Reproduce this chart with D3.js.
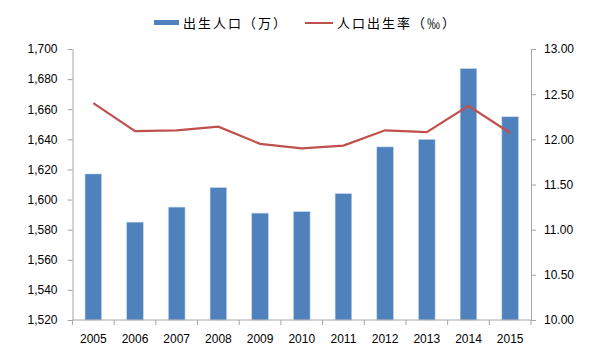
<!DOCTYPE html>
<html>
<head>
<meta charset="utf-8">
<script src="https://cdn.jsdelivr.net/npm/d3@7"></script>
<style>
  body { margin: 0; background: #fff; }
  svg text { font-family: "Liberation Sans", Arial, sans-serif; }
  .legend text { font-family: "Noto Sans CJK SC", sans-serif; }
</style>
</head>
<body>
<div id="chart"></div>
<script>
// --- data ---
const years = ["2005", "2006", "2007", "2008", "2009", "2010", "2011", "2012", "2013", "2014", "2015"];
const births = [1617, 1585, 1595, 1608, 1591, 1592, 1604, 1635, 1640, 1687, 1655];
const birthRate = [12.40, 12.09, 12.10, 12.14, 11.95, 11.90, 11.93, 12.10, 12.08, 12.37, 12.07];
const leftTicks = [1520, 1540, 1560, 1580, 1600, 1620, 1640, 1660, 1680, 1700];
const rightTicks = [10.00, 10.50, 11.00, 11.50, 12.00, 12.50, 13.00];
const legendLabels = ["出生人口（万）", "人口出生率（‰）"];

(function(){
  const W = 600, H = 354;
  const margin = { top: 49, right: 69, bottom: 34, left: 72.5 };
  const width = W - margin.left - margin.right;
  const height = H - margin.top - margin.bottom;
  const axisColor = "#a6a6a6";
  const barColor = "#4f81bd";
  const lineColor = "#c0504d";

  const svg = d3.select("#chart").append("svg")
    .attr("width", W).attr("height", H);
  const g = svg.append("g")
    .attr("transform", `translate(${margin.left},${margin.top})`);

  const x = d3.scaleBand().domain(years).range([0, width]).paddingInner(0).paddingOuter(0);
  const yL = d3.scaleLinear().domain([1520, 1700]).range([height, 0]);
  const yR = d3.scaleLinear().domain([10, 13]).range([height, 0]);

  // bars
  const bw = x.bandwidth() * 0.4;
  g.selectAll(".bar")
    .data(years)
    .join("rect")
    .attr("class", "bar")
    .attr("x", d => x(d) + (x.bandwidth() - bw) / 2)
    .attr("width", bw)
    .attr("y", (d, i) => yL(births[i]))
    .attr("height", (d, i) => height - yL(births[i]))
    .attr("fill", barColor)
    .attr("stroke", "#c6d9f1")
    .attr("stroke-width", 0.6);

  // line
  const line = d3.line()
    .x((d, i) => x(years[i]) + x.bandwidth() / 2)
    .y(d => yR(d));
  g.append("path")
    .datum(birthRate)
    .attr("d", line)
    .attr("fill", "none")
    .attr("stroke", lineColor)
    .attr("stroke-width", 2.2);

  // axes
  const styleAxis = sel => {
    sel.select(".domain").attr("stroke", axisColor);
    sel.selectAll(".tick line").attr("stroke", axisColor);
    sel.selectAll(".tick text").attr("fill", "#000").style("font-size", "12px");
  };

  g.append("g")
    .call(d3.axisLeft(yL).tickValues(leftTicks).tickFormat(d3.format(",")).tickSize(5).tickSizeOuter(0).tickPadding(10))
    .call(styleAxis);

  g.append("g")
    .attr("transform", `translate(${width},0)`)
    .call(d3.axisRight(yR).tickValues(rightTicks).tickFormat(d3.format(".2f")).tickSize(5).tickSizeOuter(0).tickPadding(8))
    .call(styleAxis);

  // x axis: category labels, ticks between categories
  const xg = g.append("g").attr("transform", `translate(0,${height})`);
  xg.append("line").attr("x1", 0).attr("x2", width)
    .attr("stroke", axisColor);
  xg.selectAll(".xt")
    .data(d3.range(years.length + 1))
    .join("line")
    .attr("x1", i => i * x.step()).attr("x2", i => i * x.step())
    .attr("y1", 0).attr("y2", 5)
    .attr("stroke", axisColor);
  xg.selectAll(".xl")
    .data(years)
    .join("text")
    .attr("x", d => x(d) + x.bandwidth() / 2)
    .attr("y", 23)
    .attr("text-anchor", "middle")
    .style("font-size", "12px")
    .text(d => d);

  // legend
  const lg = svg.append("g").attr("class", "legend");
  lg.append("rect").attr("x", 154).attr("y", 20).attr("width", 25).attr("height", 5).attr("fill", barColor);
  lg.append("text").attr("x", 183).attr("y", 27.5)
    .style("font-size", "13px").style("letter-spacing", "2px").text(legendLabels[0]);
  lg.append("line").attr("x1", 305).attr("x2", 333).attr("y1", 23).attr("y2", 23)
    .attr("stroke", lineColor).attr("stroke-width", 2);
  lg.append("text").attr("x", 337).attr("y", 27.5)
    .style("font-size", "13px").style("letter-spacing", "2px").text(legendLabels[1]);
})();
</script>
</body>
</html>
